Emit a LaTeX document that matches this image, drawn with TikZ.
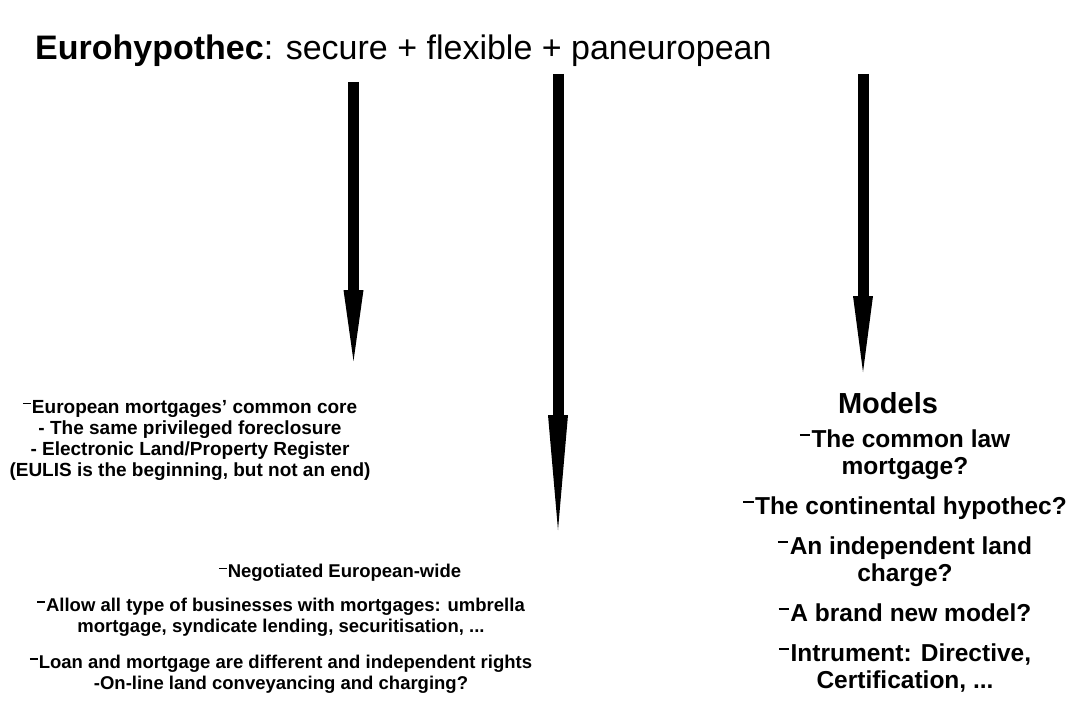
\documentclass[tikz,border=0pt]{standalone}
\usepackage{fontspec}
\setmainfont{Liberation Sans}
\usetikzlibrary{arrows.meta}
\newcommand{\bdash}{\rule[.45em]{.42em}{.1em}\hspace{.06em}}
\tikzset{
  bigarrow/.style={line width=11pt,-{Triangle[length=#1,width=20pt,line width=0pt]}},
  lefttxt/.style={font=\bfseries\fontsize{18.5}{21}\selectfont,align=center,inner sep=0pt},
  righttxt/.style={font=\bfseries\fontsize{24.5}{27}\selectfont,align=center,inner sep=0pt}
}
\begin{document}
\begin{tikzpicture}[x=1pt,y=-1pt]
    \fill[white] (0,0) rectangle (1075,722);
    \useasboundingbox (0,0) rectangle (1075,722);
    \node[anchor=base west,inner sep=0pt,font=\fontsize{34}{40}\selectfont] (title) at (35,60)
        {\textbf{Eurohypothec}: secure + flexible + paneuropean};
    % arrows
    \coordinate (a1s) at (353.5,82);  \coordinate (a1e) at (353.5,361);
    \coordinate (a2s) at (558,74);    \coordinate (a2e) at (558,530);
    \coordinate (a3s) at (863,74);    \coordinate (a3e) at (863,372);
    \draw[bigarrow=71pt] (a1s) -- (a1e);
    \draw[bigarrow=115pt] (a2s) -- (a2e);
    \draw[bigarrow=76pt] (a3s) -- (a3e);
    % left block
    \node[lefttxt,font=\bfseries\fontsize{19}{21}\selectfont] (core) at (190,440) {\bdash European mortgages' common core\\
        - The same privileged foreclosure\\
        - Electronic Land/Property Register\\
        (EULIS is the beginning, but not an end)};
    % middle block
    \node[lefttxt] (nego) at (340,573) {\bdash Negotiated European-wide};
    \node[lefttxt] (allow) at (281,617) {\bdash Allow all type of businesses with mortgages: umbrella\\
        mortgage, syndicate lending, securitisation, ...};
    \node[lefttxt] (loan) at (281,674) {\bdash Loan and mortgage are different and independent rights\\
        -On-line land conveyancing and charging?};
    % right block
    \node[font=\bfseries\fontsize{29}{32}\selectfont,inner sep=0pt] (models) at (888,403) {Models};
    \node[righttxt] (list) at (905,561) {\bdash The common law\\ mortgage?\\[13pt]
        \bdash The continental hypothec?\\[13pt]
        \bdash An independent land\\ charge?\\[13pt]
        \bdash A brand new model?\\[13pt]
        \bdash Intrument: Directive,\\ Certification, ...};
\end{tikzpicture}
\end{document}
